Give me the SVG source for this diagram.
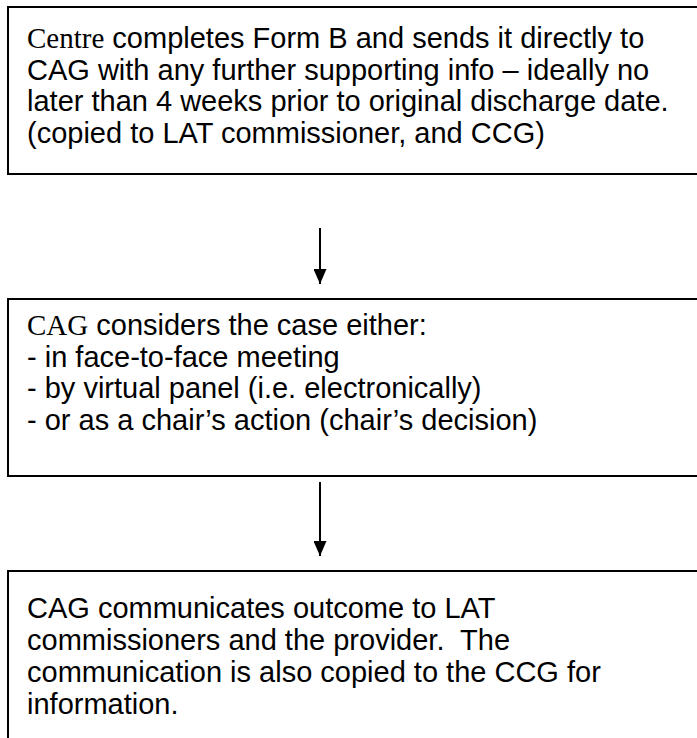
<svg xmlns="http://www.w3.org/2000/svg" width="697" height="738" viewBox="0 0 697 738">
<defs>
<style>
.box{fill:#fff;stroke:#000;stroke-width:2}
.t{font-family:"Liberation Sans",Arial,sans-serif;font-size:29px;fill:#000;white-space:pre}
.s{font-family:"Liberation Serif","Times New Roman",serif}
.c{stroke:#000;stroke-width:2;fill:none}
</style>
<marker id="ah" viewBox="0 0 15 13" refX="15" refY="6.5" markerWidth="15" markerHeight="13" markerUnits="userSpaceOnUse" orient="auto">
<path d="M0,0 L15,6.5 L0,13 Z" fill="#000"/>
</marker>
</defs>
<rect width="697" height="738" fill="#fff"/>
<g id="connectors">
<line class="c" x1="320" y1="228" x2="320" y2="284" marker-end="url(#ah)"/>
<line class="c" x1="320" y1="482" x2="320" y2="556" marker-end="url(#ah)"/>
</g>
<g id="node1">
<rect class="box" x="8" y="7" width="700" height="167"/>
<text class="t" x="27" y="48"><tspan class="s">Centre</tspan> completes Form B and sends it directly to</text>
<text class="t" x="27" y="79.5">CAG with any further supporting info – ideally no</text>
<text class="t" x="27" y="111">later than 4 weeks prior to original discharge date.</text>
<text class="t" x="27" y="142.5">(copied to LAT commissioner, and CCG)</text>
</g>
<g id="node2">
<rect class="box" x="8" y="299" width="700" height="177"/>
<text class="t" x="27" y="335"><tspan class="s">CAG</tspan> considers the case either:</text>
<text class="t" x="27" y="366.5">- in face-to-face meeting</text>
<text class="t" x="27" y="398">- by virtual panel (i.e. electronically)</text>
<text class="t" x="27" y="429.5">- or as a chair’s action (chair’s decision)</text>
</g>
<g id="node3">
<rect class="box" x="8" y="571" width="700" height="200"/>
<text class="t" x="27" y="618">CAG communicates outcome to LAT</text>
<text class="t" x="27" y="650">commissioners and the provider.  The</text>
<text class="t" x="27" y="682">communication is also copied to the CCG for</text>
<text class="t" x="27" y="714">information.</text>
</g>
</svg>
